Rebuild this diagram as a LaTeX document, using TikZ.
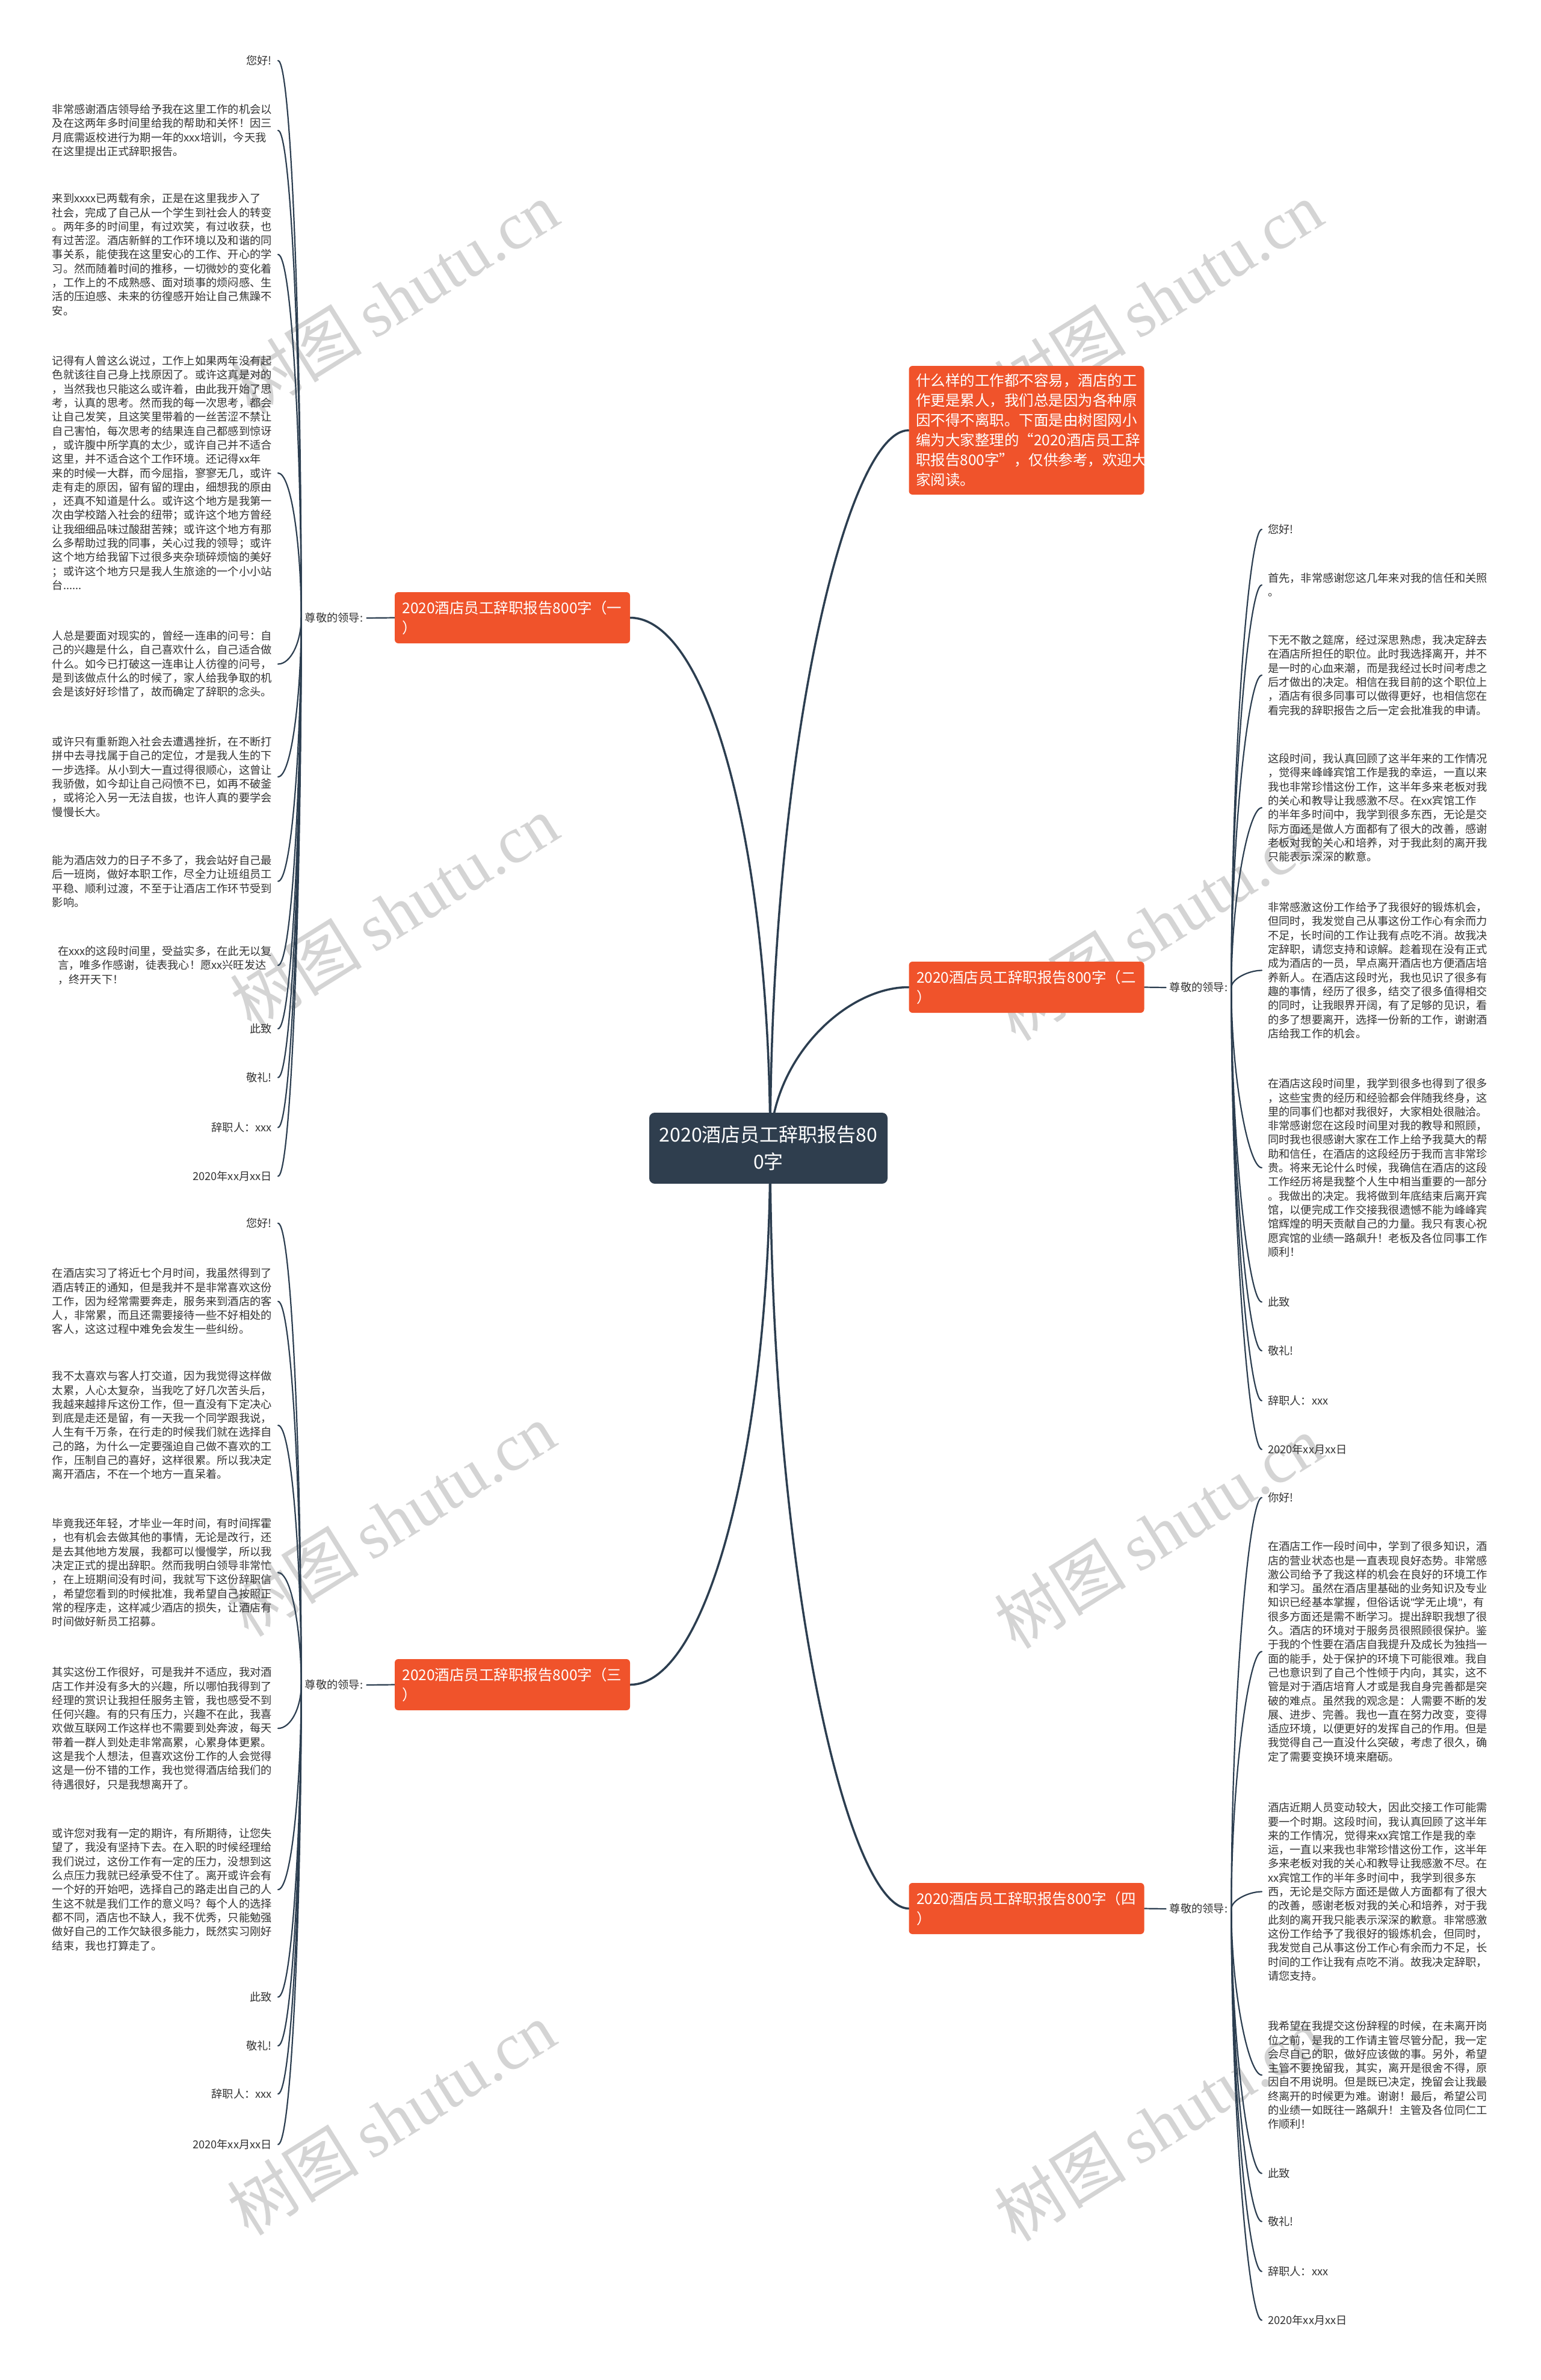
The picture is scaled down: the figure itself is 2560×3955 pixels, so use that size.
\documentclass[tikz,border=0pt]{standalone}
\usepackage{fontspec}
\setmainfont{Noto Sans CJK SC}
\newfontfamily\wmlat{Liberation Serif}
\newfontfamily\latsans{Liberation Sans}
\usetikzlibrary{calc}
\pgfdeclarelayer{wm}
\pgfdeclarelayer{lines}
\pgfsetlayers{wm,lines,main}
\definecolor{hubc}{HTML}{2F3E4E}
\definecolor{orng}{HTML}{F0532B}
\definecolor{linec}{HTML}{2C3E50}
\definecolor{txt}{HTML}{333333}
\definecolor{wmc}{HTML}{D4D4D4}
\tikzset{
  leafL/.style={anchor=north east, align=left, inner sep=0pt, text=txt, font=\fontsize{18.25pt}{23.3pt}\selectfont},
  leafR/.style={anchor=north west, align=left, inner sep=0pt, text=txt, font=\fontsize{18.25pt}{23.3pt}\selectfont},
  lbl/.style={inner sep=0pt, text=txt, font=\fontsize{18.25pt}{23.3pt}\selectfont},
  branchbox/.style={fill=orng, text=white, rounded corners=6pt, align=left, text width=366pt, inner xsep=12.5pt, inner ysep=13pt, minimum height=85pt, font=\fontsize{24.5pt}{33pt}\selectfont},
  hubbox/.style={fill=hubc, text=white, rounded corners=9pt, align=center, minimum width=396pt, minimum height=118pt, inner sep=6pt, font=\fontsize{32pt}{45pt}\selectfont},
  mainline/.style={draw=linec, line width=3.5pt, line cap=round},
  kidline/.style={draw=linec, line width=2.2pt, line cap=round},
  wmark/.style={text=wmc, inner sep=0pt, rotate=32, font=\fontsize{110pt}{120pt}\selectfont},
}
\newcommand\qt{{\latsans "}}
\newcommand\leftkid[2]{%
  \path ($(#1.west)+(-6,0)$) coordinate (pp);
  \path ($(#2.east)+(10,0)$) coordinate (cc);
  \path ($(pp)!0.5!(cc)$) coordinate (mm);
  \draw[kidline] (pp) .. controls (pp|-mm) and ($(cc)+(22,0)$) .. (cc);}
\newcommand\rightkid[2]{%
  \path ($(#1.east)+(6,0)$) coordinate (pp);
  \path ($(#2.west)+(-10,0)$) coordinate (cc);
  \path ($(pp)!0.5!(cc)$) coordinate (mm);
  \draw[kidline] (pp) .. controls (pp|-mm) and ($(cc)+(-22,0)$) .. (cc);}
\begin{document}
\begin{tikzpicture}[x=1pt,y=-1pt]
\useasboundingbox (0,0) rectangle (2560,3955);
\begin{pgfonlayer}{wm}
\fill[white] (0,0) rectangle (2560,3955);
\node[wmark] (w1) at (655,495) {树图\hspace{20pt}{\wmlat shutu.cn}};
\node[wmark] (w2) at (1925,495) {树图\hspace{20pt}{\wmlat shutu.cn}};
\node[wmark] (w3) at (655,1515) {树图\hspace{20pt}{\wmlat shutu.cn}};
\node[wmark] (w4) at (1925,1535) {树图\hspace{20pt}{\wmlat shutu.cn}};
\node[wmark] (w5) at (650,2525) {树图\hspace{20pt}{\wmlat shutu.cn}};
\node[wmark] (w6) at (1925,2545) {树图\hspace{20pt}{\wmlat shutu.cn}};
\node[wmark] (w7) at (650,3520) {树图\hspace{20pt}{\wmlat shutu.cn}};
\node[wmark] (w8) at (1925,3530) {树图\hspace{20pt}{\wmlat shutu.cn}};
\end{pgfonlayer}

% central and branch topics
\node[hubbox] (ct) at (1277,1908) {2020酒店员工辞职报告80\\0字};
\coordinate (hub) at (1280,1908);
\node[branchbox, inner xsep=11.5pt, text width=368pt] (intro) at (1706,715) {什么样的工作都不容易，酒店的工\\作更是累人，我们总是因为各种原\\因不得不离职。下面是由树图网小\\编为大家整理的“2020酒店员工辞\\职报告800字”，仅供参考，欢迎大\\家阅读。};
\node[branchbox] (b1) at (851.5,1026.5) {2020酒店员工辞职报告800字（一\\）};
\node[branchbox] (b2) at (1706,1640.5) {2020酒店员工辞职报告800字（二\\）};
\node[branchbox] (b3) at (851.5,2799.5) {2020酒店员工辞职报告800字（三\\）};
\node[branchbox] (b4) at (1706,3171.5) {2020酒店员工辞职报告800字（四\\）};

\node[lbl] (l1) at (555,1027) {尊敬的领导:};
\node[lbl] (l2) at (1992,1641) {尊敬的领导:};
\node[lbl] (l3) at (555,2800) {尊敬的领导:};
\node[lbl] (l4) at (1992,3172) {尊敬的领导:};

% branch 1
\node[leafL] (a1) at (452,92) {您好!};
\node[leafL] (a2) at (452,173) {非常感谢酒店领导给予我在这里工作的机会以\\及在这两年多时间里给我的帮助和关怀！因三\\月底需返校进行为期一年的xxx培训，今天我\\在这里提出正式辞职报告。};
\node[leafL] (a3) at (452,321) {来到xxxx已两载有余，正是在这里我步入了\\社会，完成了自己从一个学生到社会人的转变\\。两年多的时间里，有过欢笑，有过收获，也\\有过苦涩。酒店新鲜的工作环境以及和谐的同\\事关系，能使我在这里安心的工作、开心的学\\习。然而随着时间的推移，一切微妙的变化着\\，工作上的不成熟感、面对琐事的烦闷感、生\\活的压迫感、未来的彷徨感开始让自己焦躁不\\安。};
\node[leafL] (a4) at (452,591) {记得有人曾这么说过，工作上如果两年没有起\\色就该往自己身上找原因了。或许这真是对的\\，当然我也只能这么或许着，由此我开始了思\\考，认真的思考。然而我的每一次思考，都会\\让自己发笑，且这笑里带着的一丝苦涩不禁让\\自己害怕，每次思考的结果连自己都感到惊讶\\，或许腹中所学真的太少，或许自己并不适合\\这里，并不适合这个工作环境。还记得xx年\\来的时候一大群，而今屈指，寥寥无几，或许\\走有走的原因，留有留的理由，细想我的原由\\，还真不知道是什么。或许这个地方是我第一\\次由学校踏入社会的纽带；或许这个地方曾经\\让我细细品味过酸甜苦辣；或许这个地方有那\\么多帮助过我的同事，关心过我的领导；或许\\这个地方给我留下过很多夹杂琐碎烦恼的美好\\；或许这个地方只是我人生旅途的一个小小站\\台......};
\node[leafL] (a5) at (452,1048) {人总是要面对现实的，曾经一连串的问号：自\\己的兴趣是什么，自己喜欢什么，自己适合做\\什么。如今已打破这一连串让人彷徨的问号，\\是到该做点什么的时候了，家人给我争取的机\\会是该好好珍惜了，故而确定了辞职的念头。};
\node[leafL] (a6) at (452,1224) {或许只有重新跑入社会去遭遇挫折，在不断打\\拼中去寻找属于自己的定位，才是我人生的下\\一步选择。从小到大一直过得很顺心，这曾让\\我骄傲，如今却让自己闷愤不已，如再不破釜\\，或将沦入另一无法自拔，也许人真的要学会\\慢慢长大。};
\node[leafL] (a7) at (452,1421) {能为酒店效力的日子不多了，我会站好自己最\\后一班岗，做好本职工作，尽全力让班组员工\\平稳、顺利过渡，不至于让酒店工作环节受到\\影响。};
\node[leafL] (a8) at (452,1572) {在xxx的这段时间里，受益实多，在此无以复\\言，唯多作感谢，徒表我心！愿xx兴旺发达\\，终开天下！};
\node[leafL] (a9) at (452,1701) {此致};
\node[leafL] (a10) at (452,1782) {敬礼!};
\node[leafL] (a11) at (452,1865) {辞职人：xxx};
\node[leafL] (a12) at (452,1946) {2020年xx月xx日};

% branch 2
\node[leafR] (c1) at (2107,871) {您好!};
\node[leafR] (c2) at (2107,952) {首先，非常感谢您这几年来对我的信任和关照\\。};
\node[leafR] (c3) at (2107,1055) {下无不散之筵席，经过深思熟虑，我决定辞去\\在酒店所担任的职位。此时我选择离开，并不\\是一时的心血来潮，而是我经过长时间考虑之\\后才做出的决定。相信在我目前的这个职位上\\，酒店有很多同事可以做得更好，也相信您在\\看完我的辞职报告之后一定会批准我的申请。};
\node[leafR] (c4) at (2107,1252) {这段时间，我认真回顾了这半年来的工作情况\\，觉得来峰峰宾馆工作是我的幸运，一直以来\\我也非常珍惜这份工作，这半年多来老板对我\\的关心和教导让我感激不尽。在xx宾馆工作\\的半年多时间中，我学到很多东西，无论是交\\际方面还是做人方面都有了很大的改善，感谢\\老板对我的关心和培养，对于我此刻的离开我\\只能表示深深的歉意。};
\node[leafR] (c5) at (2107,1499) {非常感激这份工作给予了我很好的锻炼机会，\\但同时，我发觉自己从事这份工作心有余而力\\不足，长时间的工作让我有点吃不消。故我决\\定辞职，请您支持和谅解。趁着现在没有正式\\成为酒店的一员，早点离开酒店也方便酒店培\\养新人。在酒店这段时光，我也见识了很多有\\趣的事情，经历了很多，结交了很多值得相交\\的同时，让我眼界开阔，有了足够的见识，看\\的多了想要离开，选择一份新的工作，谢谢酒\\店给我工作的机会。};
\node[leafR] (c6) at (2107,1792) {在酒店这段时间里，我学到很多也得到了很多\\，这些宝贵的经历和经验都会伴随我终身，这\\里的同事们也都对我很好，大家相处很融洽。\\非常感谢您在这段时间里对我的教导和照顾，\\同时我也很感谢大家在工作上给予我莫大的帮\\助和信任，在酒店的这段经历于我而言非常珍\\贵。将来无论什么时候，我确信在酒店的这段\\工作经历将是我整个人生中相当重要的一部分\\。我做出的决定。我将做到年底结束后离开宾\\馆，以便完成工作交接我很遗憾不能为峰峰宾\\馆辉煌的明天贡献自己的力量。我只有衷心祝\\愿宾馆的业绩一路飙升！老板及各位同事工作\\顺利！};
\node[leafR] (c7) at (2107,2155) {此致};
\node[leafR] (c8) at (2107,2236) {敬礼!};
\node[leafR] (c9) at (2107,2319) {辞职人：xxx};
\node[leafR] (c10) at (2107,2400) {2020年xx月xx日};

% branch 3
\node[leafL] (d1) at (452,2024) {您好!};
\node[leafL] (d2) at (452,2107) {在酒店实习了将近七个月时间，我虽然得到了\\酒店转正的通知，但是我并不是非常喜欢这份\\工作，因为经常需要奔走，服务来到酒店的客\\人，非常累，而且还需要接待一些不好相处的\\客人，这这过程中难免会发生一些纠纷。};
\node[leafL] (d3) at (452,2278) {我不太喜欢与客人打交道，因为我觉得这样做\\太累，人心太复杂，当我吃了好几次苦头后，\\我越来越排斥这份工作，但一直没有下定决心\\到底是走还是留，有一天我一个同学跟我说，\\人生有千万条，在行走的时候我们就在选择自\\己的路，为什么一定要强迫自己做不喜欢的工\\作，压制自己的喜好，这样很累。所以我决定\\离开酒店，不在一个地方一直呆着。};
\node[leafL] (d4) at (452,2523) {毕竟我还年轻，才毕业一年时间，有时间挥霍\\，也有机会去做其他的事情，无论是改行，还\\是去其他地方发展，我都可以慢慢学，所以我\\决定正式的提出辞职。然而我明白领导非常忙\\，在上班期间没有时间，我就写下这份辞职信\\，希望您看到的时候批准，我希望自己按照正\\常的程序走，这样减少酒店的损失，让酒店有\\时间做好新员工招募。};
\node[leafL] (d5) at (452,2770) {其实这份工作很好，可是我并不适应，我对酒\\店工作并没有多大的兴趣，所以哪怕我得到了\\经理的赏识让我担任服务主管，我也感受不到\\任何兴趣。有的只有压力，兴趣不在此，我喜\\欢做互联网工作这样也不需要到处奔波，每天\\带着一群人到处走非常高累，心累身体更累。\\这是我个人想法，但喜欢这份工作的人会觉得\\这是一份不错的工作，我也觉得酒店给我们的\\待遇很好，只是我想离开了。};
\node[leafL] (d6) at (452,3038) {或许您对我有一定的期许，有所期待，让您失\\望了，我没有坚持下去。在入职的时候经理给\\我们说过，这份工作有一定的压力，没想到这\\么点压力我就已经承受不住了。离开或许会有\\一个好的开始吧，选择自己的路走出自己的人\\生这不就是我们工作的意义吗？每个人的选择\\都不同，酒店也不缺人，我不优秀，只能勉强\\做好自己的工作欠缺很多能力，既然实习刚好\\结束，我也打算走了。};
\node[leafL] (d7) at (452,3310) {此致};
\node[leafL] (d8) at (452,3391) {敬礼!};
\node[leafL] (d9) at (452,3471) {辞职人：xxx};
\node[leafL] (d10) at (452,3555) {2020年xx月xx日};

% branch 4
\node[leafR] (e1) at (2107,2480) {你好!};
\node[leafR] (e2) at (2107,2561) {在酒店工作一段时间中，学到了很多知识，酒\\店的营业状态也是一直表现良好态势。非常感\\激公司给予了我这样的机会在良好的环境工作\\和学习。虽然在酒店里基础的业务知识及专业\\知识已经基本掌握，但俗话说\qt 学无止境\qt ，有\\很多方面还是需不断学习。提出辞职我想了很\\久。酒店的环境对于服务员很照顾很保护。鉴\\于我的个性要在酒店自我提升及成长为独挡一\\面的能手，处于保护的环境下可能很难。我自\\己也意识到了自己个性倾于内向，其实，这不\\管是对于酒店培育人才或是我自身完善都是突\\破的难点。虽然我的观念是：人需要不断的发\\展、进步、完善。我也一直在努力改变，变得\\适应环境，以便更好的发挥自己的作用。但是\\我觉得自己一直没什么突破，考虑了很久，确\\定了需要变换环境来磨砺。};
\node[leafR] (e3) at (2107,2995) {酒店近期人员变动较大，因此交接工作可能需\\要一个时期。这段时间，我认真回顾了这半年\\来的工作情况，觉得来xx宾馆工作是我的幸\\运，一直以来我也非常珍惜这份工作，这半年\\多来老板对我的关心和教导让我感激不尽。在\\xx宾馆工作的半年多时间中，我学到很多东\\西，无论是交际方面还是做人方面都有了很大\\的改善，感谢老板对我的关心和培养，对于我\\此刻的离开我只能表示深深的歉意。非常感激\\这份工作给予了我很好的锻炼机会，但同时，\\我发觉自己从事这份工作心有余而力不足，长\\时间的工作让我有点吃不消。故我决定辞职，\\请您支持。};
\node[leafR] (e4) at (2107,3358) {我希望在我提交这份辞程的时候，在未离开岗\\位之前，是我的工作请主管尽管分配，我一定\\会尽自己的职，做好应该做的事。另外，希望\\主管不要挽留我，其实，离开是很舍不得，原\\因自不用说明。但是既已决定，挽留会让我最\\终离开的时候更为难。谢谢！最后，希望公司\\的业绩一如既往一路飙升！主管及各位同仁工\\作顺利！};
\node[leafR] (e5) at (2107,3603) {此致};
\node[leafR] (e6) at (2107,3683) {敬礼!};
\node[leafR] (e7) at (2107,3766) {辞职人：xxx};
\node[leafR] (e8) at (2107,3847) {2020年xx月xx日};

\begin{pgfonlayer}{lines}
% center to branches
\draw[mainline] (hub) .. controls (1280,1400) and (1176,1027) .. (b1.east);
\draw[mainline] (hub) .. controls (1280,1250) and (1406,715) .. (intro.west);
\draw[mainline] (hub) .. controls (1280,1760) and (1406,1640) .. (b2.west);
\draw[mainline] (hub) .. controls (1280,2400) and (1176,2800) .. (b3.east);
\draw[mainline] (hub) .. controls (1280,2605) and (1406,3171) .. (b4.west);
% branch to label
\draw[kidline] (b1.west) -- ($(l1.east)+(6,0)$);
\draw[kidline] (b2.east) -- ($(l2.west)+(-6,0)$);
\draw[kidline] (b3.west) -- ($(l3.east)+(6,0)$);
\draw[kidline] (b4.east) -- ($(l4.west)+(-6,0)$);
% label to leaves
\foreach \k in {a1,a2,a3,a4,a5,a6,a7,a8,a9,a10,a11,a12} {\leftkid{l1}{\k}}
\foreach \k in {c1,c2,c3,c4,c5,c6,c7,c8,c9,c10} {\rightkid{l2}{\k}}
\foreach \k in {d1,d2,d3,d4,d5,d6,d7,d8,d9,d10} {\leftkid{l3}{\k}}
\foreach \k in {e1,e2,e3,e4,e5,e6,e7,e8} {\rightkid{l4}{\k}}
\end{pgfonlayer}
\end{tikzpicture}
\end{document}
